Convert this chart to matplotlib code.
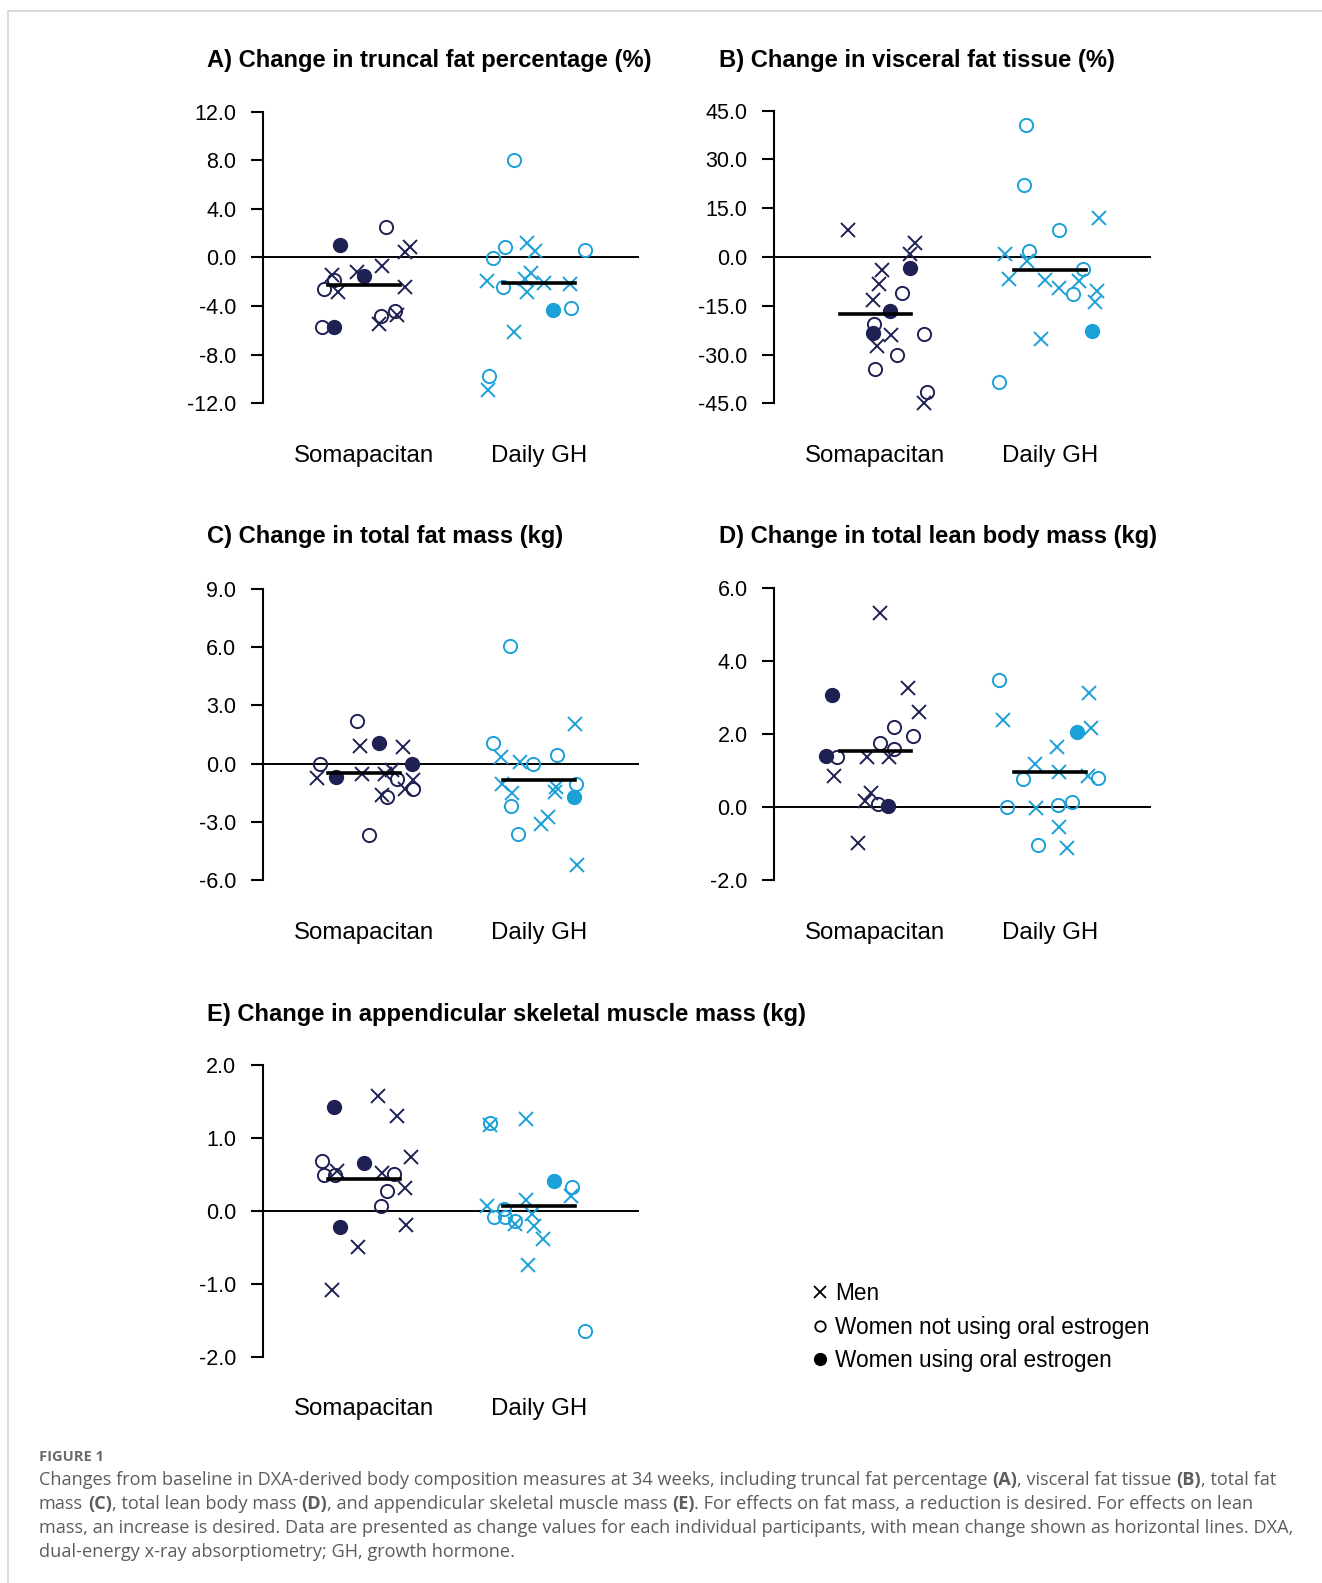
import matplotlib.pyplot as plt
import numpy as np
from matplotlib.lines import Line2D

plt.rcParams['font.family'] = ['Liberation Sans', 'DejaVu Sans']
plt.rcParams['axes.unicode_minus'] = False

W, H = 1322, 1583
navy = '#1f2154'
blue = '#1ca0d8'

groups = ['Somapacitan', 'Daily GH']
# F = women using oral estrogen, O = women not using oral estrogen, X = men
kind_soma = 'FFFOOOOOOXXXXXXXXX'
kind_gh = 'FOOOOOOOXXXXXXXXXX'

# A) truncal fat percentage
a_soma = [1.04, -1.51, -5.76, 2.47, -1.87, -2.61, -5.76, -4.85, -4.39,
          -1.45, -2.88, -1.23, -0.69, 0.41, 0.82, -2.47, -5.49, -4.72]
a_soma_dx = [-0.137, 0.002, -0.17, 0.126, -0.171, -0.232, -0.238, 0.097, 0.177,
             -0.185, -0.147, -0.042, 0.105, 0.236, 0.263, 0.234, 0.086, 0.187]
a_gh = [-4.31, 8.01, 0.82, -0.05, -2.47, 0.63, -4.17, -9.79, 1.15,
        0.55, -1.32, -1.78, -2.14, -2.88, -1.92, -2.19, -6.17, -10.89]
a_gh_dx = [0.082, -0.141, -0.194, -0.261, -0.204, 0.263, 0.187, -0.284, -0.067,
           -0.023, -0.042, -0.08, 0.029, -0.07, -0.295, 0.181, -0.141, -0.29]
a_means = [-2.28, -2.14]

# B) visceral fat tissue
b_soma = [-3.38, -16.6, -23.27, -10.97, -20.5, -23.78, -30.03, -34.44, -41.51,
          8.41, 4.31, 1.03, -3.9, -8.2, -13.33, -23.88, -27.47, -44.9]
b_soma_dx = [0.196, 0.086, -0.013, 0.154, -0.008, 0.276, 0.123, 0.0, 0.294,
             -0.155, 0.224, 0.2, 0.039, 0.018, -0.014, 0.091, 0.009, 0.28]
b_gh = [-22.76, 40.59, 22.24, 8.41, 1.85, -3.79, -11.27, -38.44, 11.99,
        0.82, -1.23, -6.87, -7.18, -9.43, -7.38, -10.46, -13.84, -25.11]
b_gh_dx = [0.242, -0.137, -0.147, 0.048, -0.124, 0.187, 0.13, -0.295, 0.282,
           -0.257, -0.13, -0.238, -0.029, 0.048, 0.162, 0.27, 0.257, -0.053]
b_means = [-17.43, -4.1]

# C) total fat mass
c_soma = [1.07, -0.69, 0.0, 2.2, -0.03, -0.77, -1.32, -1.72, -3.66,
          0.91, 0.86, -0.72, -0.52, -0.55, -0.31, -0.82, -1.29, -1.63]
c_soma_dx = [0.088, -0.162, 0.272, -0.042, -0.251, 0.187, 0.282, 0.13, 0.029,
             -0.023, 0.221, -0.267, -0.013, 0.12, 0.158, 0.282, 0.234, 0.105]
c_gh = [-1.72, 6.07, 1.07, 0.43, -0.03, -1.03, -2.18, -3.61, 2.03,
        0.34, 0.09, -1.03, -1.51, -1.2, -1.46, -2.75, -3.09, -5.21]
c_gh_dx = [0.2, -0.166, -0.261, 0.105, -0.036, 0.211, -0.16, -0.118, 0.208,
           -0.219, -0.109, -0.213, -0.156, 0.101, 0.091, 0.053, 0.011, 0.219]
c_means = [-0.5, -0.82]

# D) total lean body mass
d_soma = [3.08, 1.39, 0.02, 1.36, 1.77, 2.19, 1.59, 1.94, 0.08,
          5.32, 3.26, 2.62, 1.37, 1.37, 0.84, 0.38, 0.16, -0.99]
d_soma_dx = [-0.249, -0.285, 0.071, -0.218, 0.028, 0.106, 0.106, 0.218, 0.014,
             0.024, 0.186, 0.249, -0.047, 0.077, -0.237, -0.024, -0.062, -0.1]
d_gh = [2.07, 3.49, 0.78, 0.8, -0.01, 0.06, 0.13, -1.03, 3.13,
        2.38, 2.17, 1.65, 1.18, 0.95, 0.84, -0.03, -0.55, -1.11]
d_gh_dx = [0.156, -0.295, -0.156, 0.276, -0.248, 0.042, 0.124, -0.07, 0.223,
           -0.272, 0.234, 0.038, -0.085, 0.053, 0.219, -0.082, 0.053, 0.095]
d_means = [1.54, 0.95]

# E) appendicular skeletal muscle mass
e_soma = [1.43, 0.66, -0.22, 0.68, 0.49, 0.49, 0.5, 0.27, 0.06,
          1.57, 1.3, 0.74, 0.55, 0.52, 0.32, -0.19, -0.49, -1.09]
e_soma_dx = [-0.17, 0.002, -0.137, -0.242, -0.232, -0.166, 0.171, 0.13, 0.097,
             0.082, 0.189, 0.267, -0.156, 0.101, 0.234, 0.238, -0.032, -0.185]
e_gh = [0.41, 1.2, 0.33, 0.02, -0.09, -0.08, -0.14, -1.65, 1.18,
        1.26, 0.06, 0.15, 0.2, -0.05, -0.18, -0.21, -0.39, -0.74]
e_gh_dx = [0.085, -0.281, 0.19, -0.201, -0.258, -0.191, -0.138, 0.262, -0.281,
           -0.073, -0.296, -0.073, 0.184, -0.039, -0.138, -0.026, 0.024, -0.064]
e_means = [0.43, 0.07]

titles = ['A) Change in truncal fat percentage (%)',
          'B) Change in visceral fat tissue (%)',
          'C) Change in total fat mass (kg)',
          'D) Change in total lean body mass (kg)',
          'E) Change in appendicular skeletal muscle mass (kg)']
ticks_a = [-12, -8, -4, 0, 4, 8, 12]
ticks_b = [-45, -30, -15, 0, 15, 30, 45]
ticks_c = [-6, -3, 0, 3, 6, 9]
ticks_d = [-2, 0, 2, 4, 6]
ticks_e = [-2, -1, 0, 1, 2]

legend_labels = ['Men', 'Women not using oral estrogen', 'Women using oral estrogen']

caption = [
    [('Changes from baseline in DXA-derived body composition measures at 34 weeks, including truncal fat percentage', 0, 0),
     ('(A)', 1, 1), (', visceral fat tissue', 0, 0), ('(B)', 1, 1), (', total fat', 0, 0)],
    [('mass', 0, 0), ('(C)', 1, 1), (', total lean body mass', 0, 0), ('(D)', 1, 1),
     (', and appendicular skeletal muscle mass', 0, 0), ('(E)', 1, 1),
     ('. For effects on fat mass, a reduction is desired. For effects on lean', 0, 0)],
    [('mass, an increase is desired. Data are presented as change values for each individual participants, '
      'with mean change shown as horizontal lines. DXA,', 0, 0)],
    [('dual-energy x-ray absorptiometry; GH, growth hormone.', 0, 0)],
]

fig = plt.figure(figsize=(W / 100, H / 100), dpi=100)

# background axes in pixel units (border, titles, legend, caption)
bg = fig.add_axes([0, 0, 1, 1])
bg.set_xlim(0, W)
bg.set_ylim(H, 0)
bg.axis('off')
bg.plot([8, 8, W], [H, 11, 11], color='#d3d3d3', lw=1.2)


def px_axes(left, top, right, bottom):
    return fig.add_axes([left / W, 1 - bottom / H, (right - left) / W, (bottom - top) / H])


def draw_panel(ax, ticks, soma, soma_dx, gh, gh_dx, means):
    ax.axhline(0, color='black', lw=1.4, zorder=1)
    for center, y, dx, kind, color, mean in zip([1, 2], [soma, gh], [soma_dx, gh_dx],
                                                [kind_soma, kind_gh], [navy, blue], means):
        y = np.array(y)
        x = center + np.array(dx)
        k = np.array(list(kind))
        ax.plot(x[k == 'X'], y[k == 'X'], 'x', color=color, ms=10.5, mew=1.4, clip_on=False)
        ax.plot(x[k == 'O'], y[k == 'O'], 'o', mfc='none', mec=color, ms=9.5, mew=1.4, clip_on=False)
        ax.plot(x[k == 'F'], y[k == 'F'], 'o', color=color, ms=10, clip_on=False)
        ax.plot([center - 0.205, center + 0.205], [mean, mean], color='black', lw=2.6, zorder=5)
    ax.set_xlim(0.42, 2.575)
    ax.set_ylim(ticks[0], ticks[-1])
    ax.set_yticks(ticks)
    ax.set_yticklabels(['%.1f' % t for t in ticks])
    ax.set_xticks([])
    for s in ['top', 'right', 'bottom']:
        ax.spines[s].set_visible(False)
    ax.spines['left'].set_linewidth(1.5)
    ax.tick_params(axis='y', direction='out', length=9, width=1.5, pad=10, labelsize=15.5)
    for i, g in enumerate(groups):
        ax.annotate(g, xy=(i + 1, 0), xycoords=('data', 'axes fraction'), xytext=(0, -38),
                    textcoords='offset points', ha='center', va='center', fontsize=17.3)
    ax.patch.set_visible(False)


panels = [
    ((262.7, 111.5, 639.3, 403.3), ticks_a, a_soma, a_soma_dx, a_gh, a_gh_dx, a_means, (207, 60.6)),
    ((774, 110.7, 1150.7, 403.3), ticks_b, b_soma, b_soma_dx, b_gh, b_gh_dx, b_means, (719, 60.6)),
    ((262.7, 589, 639.3, 880), ticks_c, c_soma, c_soma_dx, c_gh, c_gh_dx, c_means, (207, 537)),
    ((774, 588.3, 1150.7, 880), ticks_d, d_soma, d_soma_dx, d_gh, d_gh_dx, d_means, (719, 537)),
    ((262.7, 1065, 639.3, 1356.7), ticks_e, e_soma, e_soma_dx, e_gh, e_gh_dx, e_means, (207, 1014)),
]

for title, (box, ticks, s, sdx, g, gdx, m, tpos) in zip(titles, panels):
    ax = px_axes(*box)
    draw_panel(ax, ticks, s, sdx, g, gdx, m)
    bg.text(tpos[0], tpos[1], title, fontsize=17.1, fontweight='bold', ha='left', va='center')

# legend (black markers)
handles = [Line2D([], [], ls='none', marker='x', color='black', ms=9, mew=1.3),
           Line2D([], [], ls='none', marker='o', mfc='none', mec='black', ms=7.5, mew=1.3),
           Line2D([], [], ls='none', marker='o', color='black', ms=8.5)]
bg.legend(handles, legend_labels, loc='upper left', bbox_to_anchor=(812, 1282),
          bbox_transform=bg.transData, frameon=False, fontsize=16.3, borderpad=0,
          borderaxespad=0, handlelength=0.7, handletextpad=0.3, labelspacing=0.47)

# caption
cap_font = ['Open Sans', 'DejaVu Sans']
bg.text(39, 1457, 'FIGURE 1', fontsize=10.5, fontweight='bold', color='#6a6a6a',
        family=cap_font, ha='left', va='center')
cap_size = 13.1
for row, parts in enumerate(caption):
    prev = None
    for txt, bold, gap in parts:
        kw = dict(fontsize=cap_size, color='#5c5c5c', family=cap_font,
                  fontweight='bold' if bold else 'normal')
        if prev is None:
            prev = bg.text(39, 1480 + 24 * row, txt, ha='left', va='center', **kw)
        else:
            prev = bg.annotate(txt, xy=(1, 0), xycoords=prev,
                               xytext=(gap * cap_size * 0.26, 0), textcoords='offset points',
                               ha='left', va='bottom', **kw)

fig.savefig('out.png', dpi=100)
